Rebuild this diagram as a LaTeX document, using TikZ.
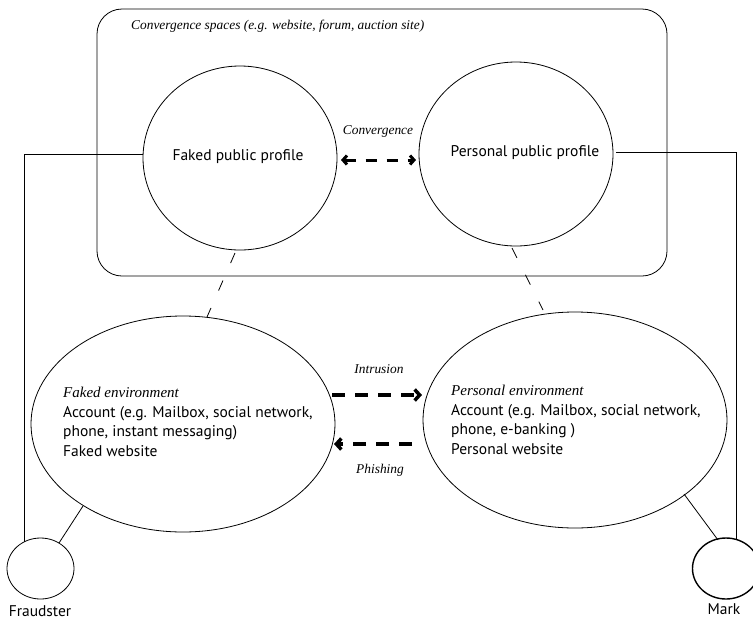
\documentclass[tikz,border=0pt]{standalone}
\usepackage{fontspec}
\setmainfont{Liberation Serif}
\newfontfamily\labsans{PT Sans}
\newcommand\myenvit{\fontsize{15}{19.5}\selectfont\rmfamily\itshape}
\usetikzlibrary{arrows.meta,shapes.geometric}
\begin{document}
\begin{tikzpicture}[x=1pt,y=-1pt,
  thinline/.style={draw=black,line width=0.8pt},
  lbl/.style={font=\fontsize{13.4}{15}\selectfont\itshape,inner sep=0pt},
  sans/.style={font=\labsans\fontsize{15.5}{19.5}\selectfont,inner sep=0pt},
  thickdash/.style={line width=3.5pt,dash pattern=on 13pt off 10pt},
  person/.style={draw=black,ellipse,minimum width=67pt,minimum height=61pt,inner sep=0pt}]
\useasboundingbox (0,0) rectangle (753,622);
% convergence space
\draw[thinline,rounded corners=25pt] (97,9) rectangle (667,276);
\node[lbl,anchor=west] (cs) at (131,26) {Convergence spaces (e.g. website, forum, auction site)};
% profile ellipses
\draw[thinline] (240,158) ellipse [x radius=97, y radius=92];
\coordinate (fp) at (240,158);
\draw[thinline] (516,154) ellipse [x radius=97, y radius=92];
\coordinate (pp) at (516,154);
\node[sans] (fpt) at (238,157) {Faked public profile};
\node[sans] (ppt) at (525,153) {Personal public profile};
% environment ellipses
\draw[thinline] (183,424) ellipse [x radius=152, y radius=108];
\coordinate (fe) at (183,424);
\draw[thinline] (575,420) ellipse [x radius=152, y radius=108];
\coordinate (pe) at (575,420);
\node[sans,anchor=west,align=left] (fet) at (63,422) {{\myenvit Faked environment}\\Account (e.g. Mailbox, social network,\\phone, instant messaging)\\Faked website};
\node[sans,anchor=west,align=left] (pet) at (451,420) {{\myenvit Personal environment}\\Account (e.g. Mailbox, social network,\\phone, e-banking )\\Personal website};
% persons
\node[person,line width=0.8pt] (fr) at (40.5,568.5) {};
\node[person,line width=1.4pt] (mk) at (726,568.5) {};
\node[sans,anchor=north] (frt) at (40,605) {Fraudster};
\node[sans,anchor=north] (mkt) at (724,603) {Mark};
% connectors
\coordinate (fpl) at (143,154);
\coordinate (ppr) at (616,152);
\coordinate (lc) at (24,154);
\coordinate (rc) at (736,152);
\draw[thinline] (fpl) -- (lc) -- (24,542);
\draw[thinline] (ppr) -- (rc) -- (736,539);
\draw[thinline] (59,543) -- (83,506);
\draw[thinline] (718,540) -- (684,494);
\draw[thinline,dash pattern=on 11pt off 19pt] (235,253) -- (207,317);
\draw[thinline,dash pattern=on 11pt off 19pt] (512,248) -- (543,310);
% arrows
\draw[line width=3pt,dash pattern=on 11pt off 10pt,{Straight Barb[length=4pt,width=9pt]}-{Straight Barb[length=4pt,width=9pt]}] (341,160) -- (416,160);
\node[lbl] (cv) at (378,131) {Convergence};
\draw[thickdash,-{Straight Barb[length=5pt,width=11pt]}] (332,395) -- (422,395);
\node[lbl] (in) at (379,369) {Intrusion};
\draw[thickdash,-{Straight Barb[length=5pt,width=11pt]}] (412,444) -- (334,444);
\node[lbl] (ph) at (380,470) {Phishing};
\end{tikzpicture}
\end{document}
